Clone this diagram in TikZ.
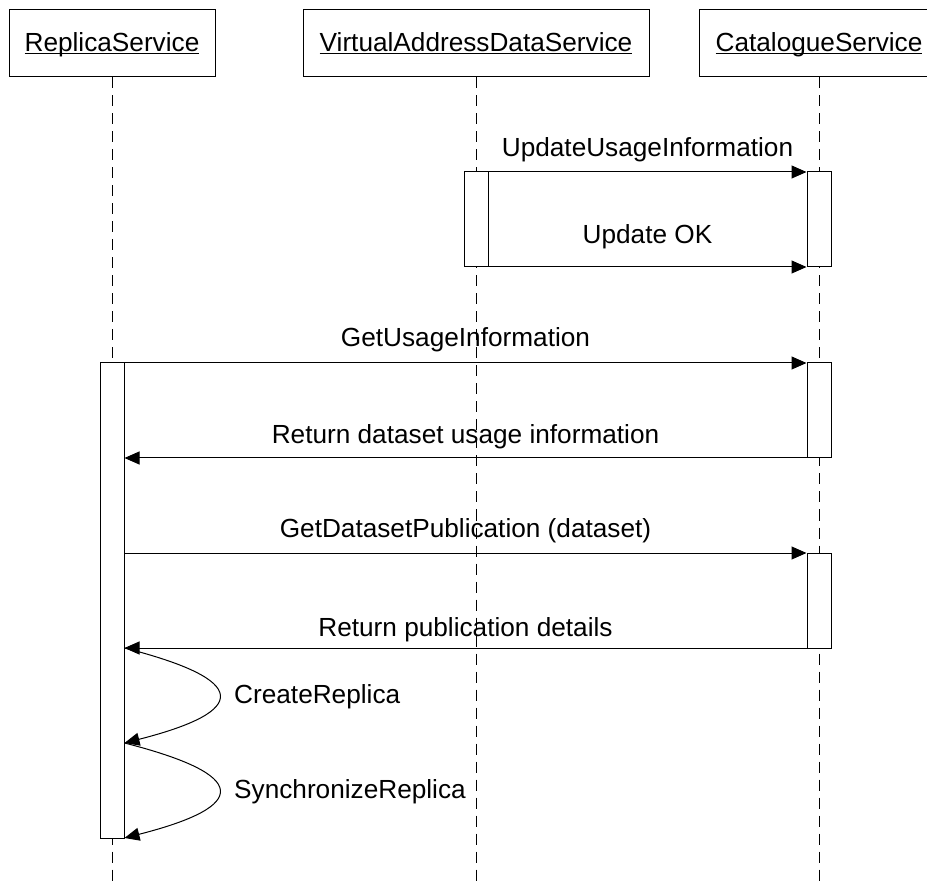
\documentclass[tikz,border=0pt]{standalone}
\usepackage{fontspec}
\setmainfont{Liberation Sans}
\usetikzlibrary{arrows.meta}
\newcommand\myul[1]{\setbox0\hbox{#1}\rlap{\rule[-3pt]{\wd0}{1.1pt}}\box0}
\tikzset{
  hdr/.style={draw, line width=1pt, fill=white, minimum height=67pt, text height=19pt, text depth=3pt, inner sep=0pt},
  life/.style={draw, line width=1pt, dash pattern=on 11pt off 7pt},
  act/.style={draw, line width=1pt, fill=white, minimum width=24pt, inner sep=0pt},
  msg/.style={draw, line width=1pt, -{Triangle[length=15pt,width=13pt]}},
  lbl/.style={anchor=base, inner sep=0pt}
}
\begin{document}
\begin{tikzpicture}[x=1pt,y=-1pt,font=\fontsize{26.2}{30}\selectfont]
\useasboundingbox (0,0) rectangle (927,882);
\clip (0,0) rectangle (927,882);
% headers
\node[hdr, minimum width=206pt] (rs) at (112,43.5) {\myul{ReplicaService}};
\node[hdr, minimum width=346pt] (vs) at (476,43.5) {\myul{VirtualAddressDataService}};
\node[hdr, minimum width=240pt] (cs) at (819,43.5) {\myul{CatalogueService}};
% lifeline ends
\coordinate (rsEnd) at (112,882);
\coordinate (vsEnd) at (476,882);
\coordinate (csEnd) at (819,882);
\path[life] (rs.south) -- (rsEnd);
\path[life] (vs.south) -- (vsEnd);
\path[life] (cs.south) -- (csEnd);
% activations
\node[act, minimum height=95pt] (va)  at (476,219.5) {};
\node[act, minimum height=95pt] (ca1) at (819,219.5) {};
\node[act, minimum height=95pt] (ca2) at (819,410.5) {};
\node[act, minimum height=95pt] (ca3) at (819,600.5) {};
\node[act, minimum height=475pt] (ra) at (112,600.5) {};
% message endpoints
\coordinate (m1s) at (va.east |- 0,172);   \coordinate (m1e) at (ca1.west |- 0,172);
\coordinate (m2s) at (va.east |- 0,267);   \coordinate (m2e) at (ca1.west |- 0,267);
\coordinate (m3s) at (ra.east |- 0,363);   \coordinate (m3e) at (ca2.west |- 0,363);
\coordinate (m4s) at (ca2.west |- 0,458);  \coordinate (m4e) at (ra.east |- 0,458);
\coordinate (m5s) at (ra.east |- 0,553);   \coordinate (m5e) at (ca3.west |- 0,553);
\coordinate (m6s) at (ca3.west |- 0,648);  \coordinate (m6e) at (ra.east |- 0,648);
\coordinate (m7e) at (ra.east |- 0,743);
\coordinate (m8e) at (ra.east |- 0,838);
\path[msg] (m1s) -- (m1e);
\path[msg] (m2s) -- (m2e);
\path[msg] (m3s) -- (m3e);
\path[msg] (m4s) -- (m4e);
\path[msg] (m5s) -- (m5e);
\path[msg] (m6s) -- (m6e);
\path[msg] (m6e) .. controls (250,680) and (250,711) .. (m7e);
\path[msg] (m7e) .. controls (250,775) and (250,806) .. (m8e);
% labels
\node[lbl] (l1) at (647.5,157) {UpdateUsageInformation};
\node[lbl] (l2) at (647.5,244) {Update OK};
\node[lbl] (l3) at (465.5,347) {GetUsageInformation};
\node[lbl] (l4) at (465.5,444) {Return dataset usage information};
\node[lbl] (l5) at (465.5,537) {GetDatasetPublication (dataset)};
\node[lbl] (l6) at (465.5,636) {Return publication details};
\node[lbl, anchor=base west] (l7) at (234,703) {CreateReplica};
\node[lbl, anchor=base west] (l8) at (234,798) {SynchronizeReplica};
\end{tikzpicture}
\end{document}
